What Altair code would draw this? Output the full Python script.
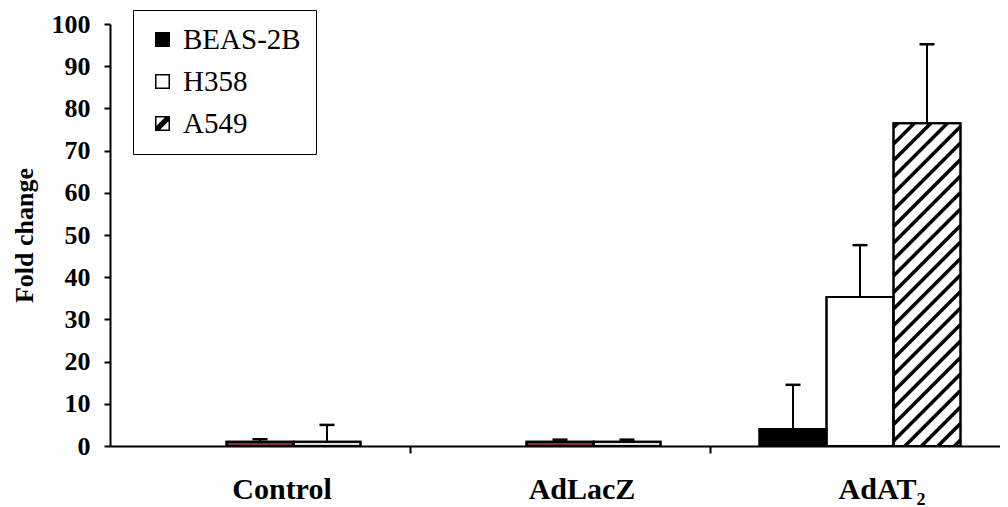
import altair as alt
import pandas as pd
import numpy as np

# ---- data ----
groups = ["Control", "AdLacZ", "AdAT₂"]
series = ["BEAS-2B", "H358", "A549"]
beas = [0.0, 0.0, 4.0]
beas_err = [0.0, 0.0, 10.5]
h358 = [1.0, 1.0, 35.3]
h358_err = [0.6, 0.5, 12.3]
a549 = [1.0, 1.0, 76.5]
a549_err = [4.0, 0.5, 18.7]
y_ticks = list(range(0, 101, 10))

# ---- layout ----
W, H = 890, 422
CAT_PX = 300
XMAX = W / CAT_PX
YMAX = 100
px_x = W / XMAX
px_y = H / YMAX
BW = 67 / px_x          # bar width in x units
CAP = 7.5 / px_x        # half cap width
FONT = "'Liberation Serif', 'Times New Roman', 'DejaVu Serif', serif"

rows = []
vals = [beas, h358, a549]
errs = [beas_err, h358_err, a549_err]
for gi, g in enumerate(groups):
    for si, s in enumerate(series):
        c = gi + 0.5 + (si - 1) * BW
        rows.append(dict(group=g, series=s, value=vals[si][gi], err=errs[si][gi],
                         xc=c, x0=c - BW / 2, x1=c + BW / 2))
df = pd.DataFrame(rows)
df["top"] = df["value"] + df["err"]
df["cap0"] = df["xc"] - CAP
df["cap1"] = df["xc"] + CAP
df["base"] = 0.0

# hatch segments for the A549 bars tall enough to show hatching
sp = 16.5
hrows = []
for r in df.itertuples():
    if r.series == "A549" and r.value * px_y > 20:
        Wp = BW * px_x
        Hp = r.value * px_y
        for k in np.arange(-Wp + 6, Hp, sp):
            sx = max(0.0, -k)
            ex = min(Wp, Hp - k)
            if ex > sx:
                hrows.append(dict(hx=r.x0 + sx / px_x, hy=(sx + k) / px_y,
                                  hx2=r.x0 + ex / px_x, hy2=(ex + k) / px_y))
hdf = pd.DataFrame(hrows)

labels_df = pd.DataFrame({"group": groups, "cx": [i + 0.5 for i in range(len(groups))]})

xs = alt.Scale(domain=[0, XMAX], nice=False, zero=False)
ys = alt.Scale(domain=[0, YMAX], nice=False)
x_axis = alt.Axis(values=[1, 2], labels=False, title=None, tickSize=7, tickWidth=2,
                  tickColor="black", domainColor="black", domainWidth=2, grid=False)
y_axis = alt.Axis(values=y_ticks, title="Fold change", titleFont=FONT, titleFontSize=26,
                  titleFontWeight="bold", titleColor="black", titlePadding=14,
                  labelFont=FONT, labelFontSize=26, labelFontWeight="bold", labelColor="black",
                  labelPadding=14, tickSize=6, tickWidth=2, tickColor="black",
                  domainColor="black", domainWidth=2, grid=False)

ring = "M-1,-1H1V1H-1Z M-0.8,-0.8V0.8H0.8V-0.8Z"
a549_path = ring + " M-0.8,0.8L-0.8,0.3L0.3,-0.8L0.8,-0.8L0.8,-0.3L-0.3,0.8Z"

legend = alt.Legend(
    title=None, orient="none", legendX=23, legendY=-14,
    fillColor="white", strokeColor="black", padding=15,
    labelFont=FONT, labelFontSize=29, labelColor="black", labelFontWeight="normal",
    symbolSize=225, symbolStrokeWidth=0, symbolOpacity=1,
    rowPadding=12, labelOffset=6,
)

color_scale = alt.Scale(domain=series, range=["black", "black", "black"])
shape_scale = alt.Scale(domain=series, range=["square", ring, a549_path])

base = alt.Chart(df).transform_filter("datum.value > 0")

bars = base.mark_rect(stroke="black", strokeWidth=2, opacity=1).encode(
    x=alt.X("x0:Q", scale=xs, axis=x_axis),
    x2="x1:Q",
    y=alt.Y("value:Q", scale=ys, axis=y_axis),
    y2="base:Q",
    color=alt.Color("series:N", scale=color_scale, legend=legend,
                    condition=[
                        {"test": "datum.series === 'H358' && datum.value < 2", "value": "#7b2f3f"},
                        {"test": "datum.series === 'A549' && datum.value < 2", "value": "#e2e2da"},
                        {"test": "datum.series !== 'BEAS-2B'", "value": "white"},
                    ]),
)

legend_pts = alt.Chart(df).transform_filter("false").mark_point(filled=True, opacity=1).encode(
    x=alt.X("xc:Q", scale=xs, axis=x_axis),
    y=alt.Y("value:Q", scale=ys, axis=y_axis),
    color=alt.Color("series:N", scale=color_scale, legend=legend),
    shape=alt.Shape("series:N", scale=shape_scale, legend=legend),
)

hatch = alt.Chart(hdf).mark_rule(color="black", strokeWidth=3.5).encode(
    x=alt.X("hx:Q", scale=xs, axis=x_axis),
    y=alt.Y("hy:Q", scale=ys, axis=y_axis),
    x2="hx2:Q",
    y2="hy2:Q",
)

outline = base.mark_rect(fill=None, fillOpacity=0, stroke="black", strokeWidth=2).encode(
    x=alt.X("x0:Q", scale=xs, axis=x_axis),
    x2="x1:Q",
    y=alt.Y("value:Q", scale=ys, axis=y_axis),
    y2="base:Q",
)

err_base = alt.Chart(df).transform_filter("datum.value > 0 && datum.err > 0")
stems = err_base.mark_rule(color="black", strokeWidth=2).encode(
    x=alt.X("xc:Q", scale=xs, axis=x_axis),
    y=alt.Y("value:Q", scale=ys, axis=y_axis),
    y2="top:Q",
)
caps = err_base.mark_rule(color="black", strokeWidth=2.5).encode(
    x=alt.X("cap0:Q", scale=xs, axis=x_axis),
    x2="cap1:Q",
    y=alt.Y("top:Q", scale=ys, axis=y_axis),
)

xlabels = alt.Chart(labels_df).mark_text(
    font=FONT, fontSize=30, fontWeight="bold", color="black",
    baseline="alphabetic", align="center", dx=22,
).encode(
    x=alt.X("cx:Q", scale=xs, axis=x_axis),
    y=alt.value(H + 53),
    text="group:N",
)

chart = alt.layer(bars, legend_pts, hatch, outline, stems, caps, xlabels).properties(
    width=W, height=H,
    autosize=alt.AutoSizeParams(type="none"),
    padding={"left": 102, "top": 16, "right": 0, "bottom": 60},
    background="white",
).configure(font=FONT).configure_view(stroke=None).configure_legend(
    labelFont=FONT, labelFontSize=29, labelColor="black", labelFontWeight="normal",
)

chart.save("out.html", embed_options={"renderer": "svg", "actions": False})
